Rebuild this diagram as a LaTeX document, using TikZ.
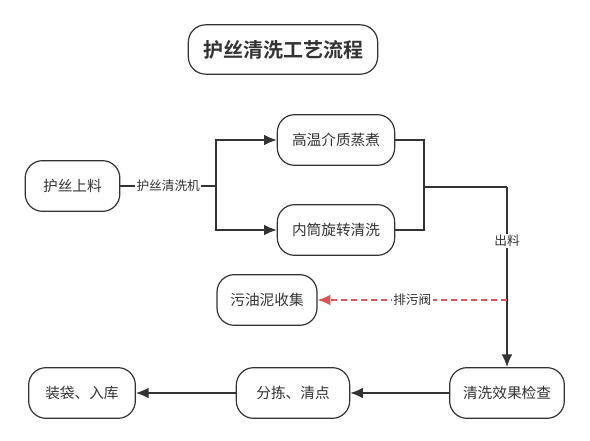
\documentclass[tikz,border=0pt]{standalone}
\usepackage{fontspec}
\setmainfont{Noto Sans CJK SC}[BoldFont={Noto Sans CJK SC Bold}]
\usetikzlibrary{arrows.meta}
\definecolor{ink}{HTML}{333333}
\definecolor{valve}{HTML}{E05555}
\begin{document}
\begin{tikzpicture}[x=0.75pt,y=-0.75pt,
  stadium/.style={draw=ink, line width=0.9pt, rounded corners=13pt, minimum height=38pt, text=ink, font=\fontsize{11}{13}\selectfont},
  lbl/.style={fill=white, inner sep=1pt, text=ink, font=\fontsize{9.5}{11}\selectfont},
  flow/.style={draw=ink, line width=1pt},
  tip/.style={-{Latex[length=9.5pt,width=8pt]}}]
\useasboundingbox (0,0) rectangle (590,441);
% title
\node[stadium, minimum width=142pt, minimum height=37pt, font=\fontsize{15}{17}\selectfont\bfseries] (title) at (283,49.5){护丝清洗工艺流程};
% nodes
\node[stadium, minimum width=71pt] (feed) at (72.5,186){护丝上料};
\node[stadium, minimum width=88pt] (steam) at (336,140){高温介质蒸煮};
\node[stadium, minimum width=88pt] (drum) at (336,230){内筒旋转清洗};
\node[stadium, minimum width=75pt] (waste) at (267,300){污油泥收集};
\node[stadium, minimum width=86pt] (check) at (507,393){清洗效果检查};
\node[stadium, minimum width=85pt] (sort) at (293,393){分拣、清点};
\node[stadium, minimum width=80pt] (bag) at (82,393){装袋、入库};
\coordinate (split) at (216,186);
\coordinate (merge) at (424,187);
\coordinate (turn) at (507,187);
\coordinate (drain) at (507,300);
% connectors
\draw[flow](feed) -- node[lbl]{护丝清洗机} (split);
\draw[flow, tip](split) |- (steam);
\draw[flow, tip](split) |- (drum);
\draw[flow](steam) -| (merge);
\draw[flow](drum) -| (merge);
\draw[flow](merge) -- (turn);
\draw[flow, tip](turn) -- node[lbl, pos=0.3]{出料} (check);
\draw[draw=valve, line width=1pt, dash pattern=on 4.5pt off 3pt, -{Latex[length=9.5pt,width=8pt]}](drain) -- node[lbl]{排污阀} (waste);
\draw[flow, tip](check) -- (sort);
\draw[flow, tip](sort) -- (bag);
\end{tikzpicture}
\end{document}
